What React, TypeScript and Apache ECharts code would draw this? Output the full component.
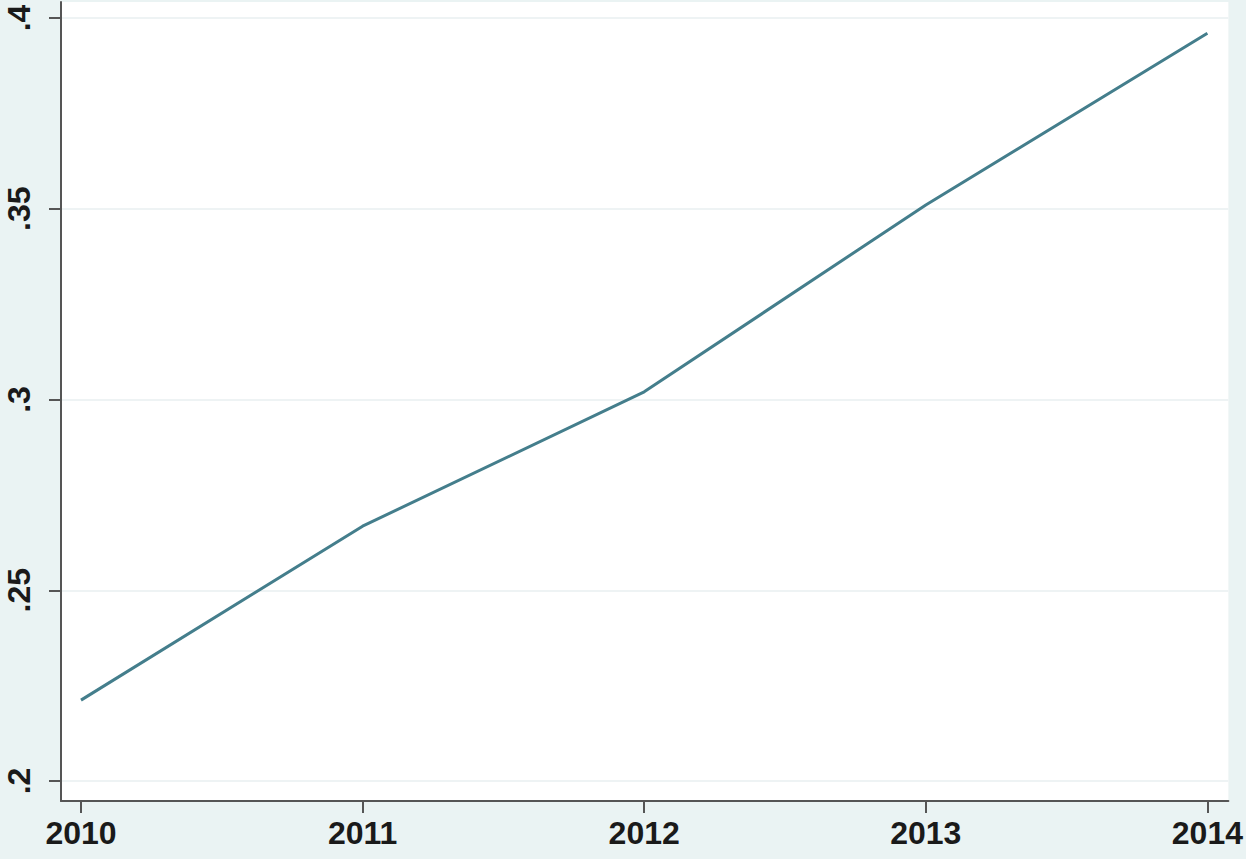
import React, { useEffect, useRef } from "react";
import * as echarts from "echarts";

const years = [2010, 2011, 2012, 2013, 2014];
const values = [0.2212, 0.2668, 0.302, 0.351, 0.396];
const yTicks = [0.2, 0.25, 0.3, 0.35, 0.4];
const yTickLabels = [".2", ".25", ".3", ".35", ".4"];

export default function App() {
  const ref = useRef<HTMLDivElement>(null);
  useEffect(() => {
    document.body.style.margin = "0";
    const chart = echarts.init(ref.current!, null, { renderer: "svg" });
    chart.setOption({
      animation: false,
      backgroundColor: "#eaf3f3",
      grid: {
        left: 61,
        right: 16,
        top: 2,
        bottom: 58,
        show: true,
        backgroundColor: "#ffffff",
        borderWidth: 0,
      },
      xAxis: {
        type: "value",
        min: 2009.929,
        max: 2014.0745,
        axisLine: { show: true, onZero: false, lineStyle: { color: "#555", width: 2 } },
        axisTick: { show: true, length: 12, customValues: years, lineStyle: { color: "#555", width: 2 } },
        axisLabel: {
          customValues: years,
          formatter: (v: number) => String(Math.round(v)),
          fontFamily: "Liberation Sans, Arial, sans-serif",
          fontSize: 32,
          fontWeight: "bold",
          color: "#1a1a1a",
          margin: 16,
        },
        splitLine: { show: false },
      },
      yAxis: {
        type: "value",
        min: 0.19476,
        max: 0.40419,
        axisLine: { show: true, lineStyle: { color: "#555", width: 2 } },
        axisTick: { show: true, length: 12, customValues: yTicks, lineStyle: { color: "#555", width: 2 } },
        axisLabel: {
          customValues: yTicks,
          rotate: 90,
          formatter: (v: number) => {
            const i = yTicks.findIndex((t) => Math.abs(t - v) < 1e-6);
            return i >= 0 ? yTickLabels[i] : "";
          },
          fontFamily: "Liberation Sans, Arial, sans-serif",
          fontSize: 32,
          fontWeight: "bold",
          color: "#1a1a1a",
          margin: 26,
        },
        splitLine: { show: true, lineStyle: { color: "#eef3f4", width: 2 } },
      },
      series: [
        {
          type: "line",
          data: years.map((y, i) => [y, values[i]]),
          showSymbol: false,
          symbol: "none",
          lineStyle: { color: "#447e8c", width: 3 },
        },
      ],
    });
    return () => chart.dispose();
  }, []);
  return <div ref={ref} style={{ position: "fixed", left: 0, top: 0, width: 1246, height: 859 }} />;
}
